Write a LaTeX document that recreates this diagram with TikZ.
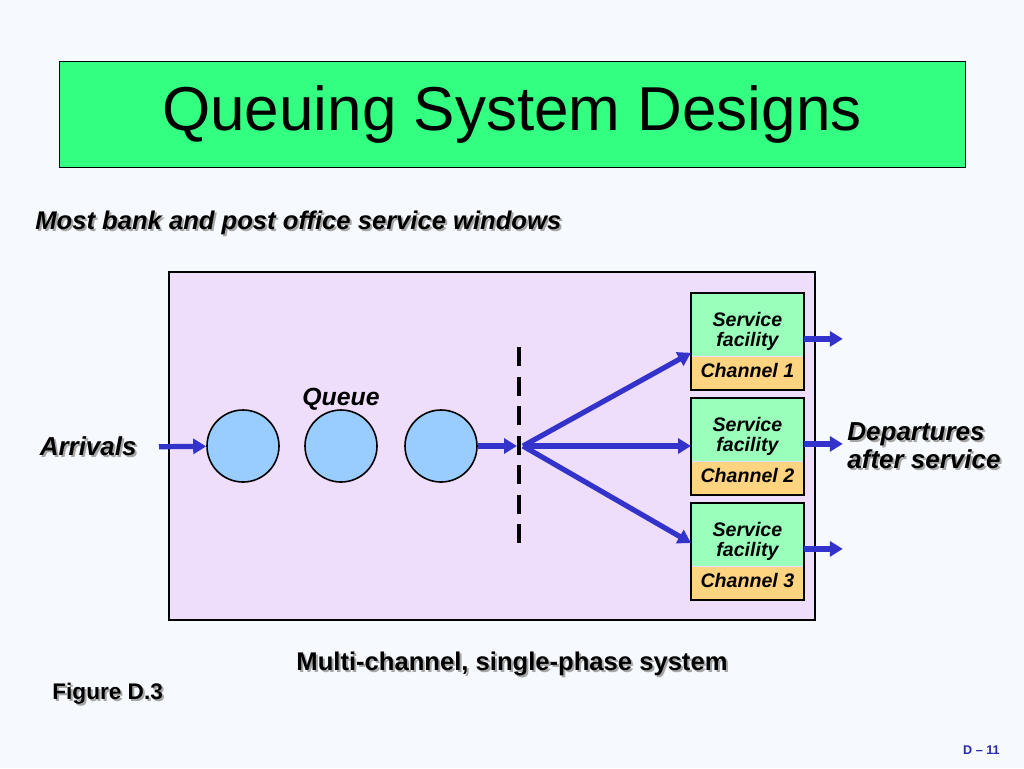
\documentclass[tikz,border=0pt]{standalone}
\usepackage{fontspec}
\setmainfont{Liberation Sans}
\usetikzlibrary{arrows.meta,positioning,calc}

\definecolor{pagebg}{RGB}{246,249,253}
\definecolor{titlegreen}{RGB}{51,255,128}
\definecolor{panelpurple}{RGB}{238,221,251}
\definecolor{custblue}{RGB}{153,204,255}
\definecolor{servgreen}{RGB}{153,255,187}
\definecolor{chanorange}{RGB}{255,212,128}
\definecolor{flowblue}{RGB}{51,51,204}
\definecolor{pageblue}{RGB}{40,40,170}

% text with a grey drop shadow
\newcommand{\shadowed}[1]{\makebox[0pt][l]{\hspace{1pt}\raisebox{-1pt}{\textcolor{black!35}{#1}}}#1}

\tikzset{
	lbl/.style={inner sep=0pt,font=\fontsize{13}{13}\selectfont\bfseries\itshape},
	flow/.style={draw=flowblue,line width=2.6pt,-{Triangle[length=6.5pt,width=7.5pt]}},
	custcircle/.style={circle,draw,line width=0.8pt,fill=custblue,minimum size=36pt,inner sep=0pt},
	servbox/.style={fill=servgreen,minimum width=56pt,minimum height=31.5pt,inner sep=0pt},
	chanbox/.style={fill=chanorange,minimum width=56pt,minimum height=16pt,inner sep=0pt},
	boxtext/.style={inner sep=0pt,align=center,font=\fontsize{9.8}{10}\selectfont\bfseries\itshape},
	divider/.style={line width=2pt,dash pattern=on 9.5pt off 5.25pt}
}

\begin{document}
\begin{tikzpicture}[x=0.5pt,y=-0.5pt]

		\fill[pagebg] (0,0) rectangle (1024,768);
		\useasboundingbox (0,0) rectangle (1024,768);

		% title
		\node[draw,line width=0.5pt,fill=titlegreen,minimum width=453pt,minimum height=53pt,inner sep=0pt] (title) at (512,114)
			{\fontsize{31}{36}\selectfont Queuing System Designs};
		\node[lbl,font=\fontsize{12.8}{13}\selectfont\bfseries\itshape,anchor=base west] (sub) at (35,229)
			{\shadowed{Most bank and post office service windows}};

		% the system
		\draw[fill=panelpurple,line width=1pt] (169,272) rectangle (815,620);

		\node[custcircle] (q1) at (243,446) {};
		\node[custcircle] (q2) at (341,446) {};
		\node[custcircle] (q3) at (441,446) {};
		\node[lbl,font=\fontsize{12.4}{13}\selectfont\bfseries\itshape,above=-1pt of q2] (queue) {Queue};

		\node[lbl,anchor=base east] (arr) at (137,455) {\shadowed{Arrivals}};
		\draw[flow] ([xshift=11pt]arr.east) -- (q1);

		\coordinate (split) at (519,446);
		\coordinate (dtop) at (519,347);
		\coordinate (dbot) at (519,543);
		\draw[divider] (dtop) -- (dbot);
		\draw[flow] (q3) -- ([xshift=-1pt]split);

		\foreach \i/\y in {1/293,2/398,3/503} {
			\node[servbox,anchor=north west,label={[boxtext,yshift=-3.5pt]center:Service\\facility}] (s\i) at (691,\y) {};
			\node[chanbox,below=0pt of s\i,label={[boxtext,yshift=1.5pt]center:Channel \i}] (c\i) {};
			\draw[line width=1pt] (s\i.north west) rectangle (c\i.south east);
			\draw[flow] ([yshift=-7pt]s\i.east) -- ++(19.5pt,0);
		}

		\draw[flow] ([xshift=2pt]split) -- ([yshift=2pt]s1.south west);
		\draw[flow] ([xshift=2pt]split) -- (split -| s2.west);
		\draw[flow] ([xshift=2pt]split) -- ([yshift=-20pt]s3.north west);

		\node[lbl,align=left,anchor=west] (dep) at (847,447)
			{\shadowed{Departures}\\\shadowed{after service}};

		% captions
		\node[lbl,font=\fontsize{12.8}{13}\selectfont\bfseries,anchor=base] (cap) at (512,670)
			{\shadowed{Multi-channel, single-phase system}};
		\node[lbl,font=\fontsize{11.3}{12}\selectfont\bfseries,anchor=base west] (fig) at (52,699)
			{\shadowed{Figure D.3}};
		\node[lbl,font=\fontsize{6.3}{7}\selectfont\bfseries,text=pageblue,anchor=base east] (pg) at (1000,754)
			{D -- 11};
	\end{tikzpicture}
\end{document}
